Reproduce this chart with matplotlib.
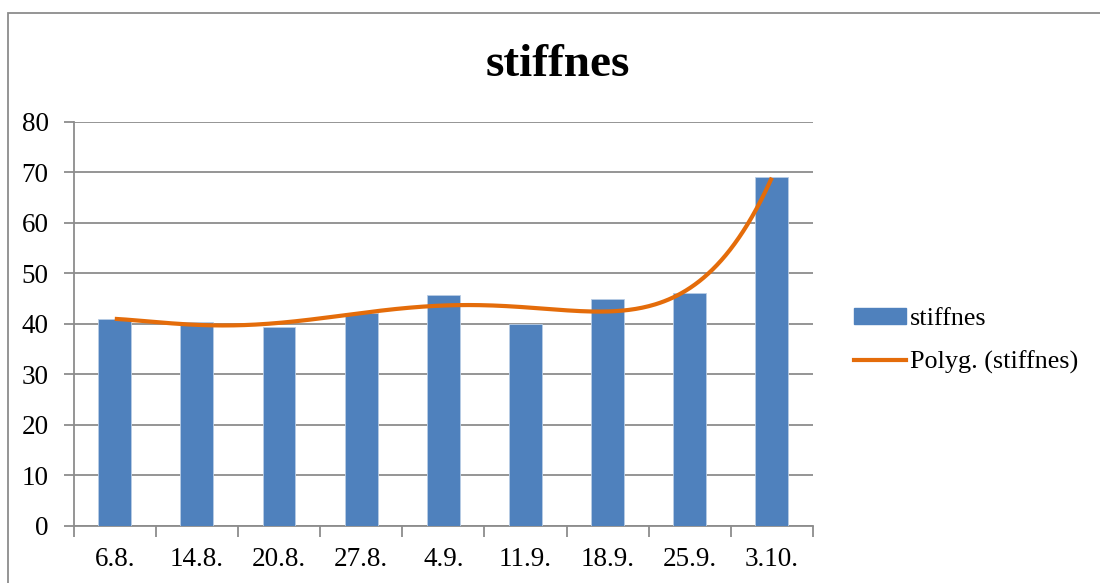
import numpy as np
import matplotlib.pyplot as plt
from matplotlib.patches import Rectangle
from matplotlib.lines import Line2D

dates = ["6.8.", "14.8.", "20.8.", "27.8.", "4.9.", "11.9.", "18.9.", "25.9.", "3.10."]
stiffnes = [40.9, 40.3, 39.3, 42.2, 45.7, 39.9, 45.0, 46.1, 69.1]

plt.rcParams['font.family'] = ['Liberation Serif', 'DejaVu Serif']

fig = plt.figure(figsize=(11, 5.83), dpi=100)
ax = fig.add_axes([0.067, 0.098, 0.672, 0.693])

x = np.arange(len(dates))
bars = ax.bar(x, stiffnes, width=0.4, color="#4f81bd", edgecolor="#b9cde5",
              linewidth=0.6, zorder=3, label="stiffnes")

# polynomial trendline (order 6) through the bar values
coef = np.polyfit(x, stiffnes, 6)
xs = np.linspace(x[0], x[-1], 300)
ax.plot(xs, np.polyval(coef, xs), color="#e46c0a", lw=3, zorder=4,
        solid_capstyle="butt")

ax.set_xlim(-0.5, len(dates) - 0.5)
ax.set_ylim(0, 80)
ax.set_yticks(range(0, 81, 10))
ax.yaxis.grid(True, color="#8c8c8c", lw=1.3, zorder=0)
ax.set_axisbelow(True)

ax.set_xticks(x)
ax.set_xticklabels(dates, fontsize=19.5)
ax.set_xticks(np.arange(-0.5, len(dates), 1), minor=True)
ax.tick_params(axis="x", which="major", length=0, pad=15)
ax.tick_params(axis="x", which="minor", length=8, width=1.3, color="#8c8c8c")
ax.tick_params(axis="y", length=7, width=1.3, color="#8c8c8c", labelsize=19.5, pad=11)

for s in ["top", "right"]:
    ax.spines[s].set_visible(False)
for s in ["left", "bottom"]:
    ax.spines[s].set_color("#8c8c8c")
    ax.spines[s].set_linewidth(1.3)

fig.text(0.507, 0.888, "stiffnes", fontsize=34, fontweight="bold",
         ha="center", va="center")

handles = [Rectangle((0, 0), 1, 1, color="#4f81bd"),
           Line2D([0], [0], color="#e46c0a", lw=3)]
fig.legend(handles, ["stiffnes", "Polyg. (stiffnes)"], loc="center left",
           bbox_to_anchor=(0.776, 0.415), frameon=False, fontsize=18.8,
           handlelength=2.0, handleheight=0.55, handletextpad=0.15,
           labelspacing=0.76, borderpad=0, borderaxespad=0)

# outer chart border
fig.add_artist(Rectangle((0.0075, -0.1), 1.2, 1.078, transform=fig.transFigure,
                         fill=False, edgecolor="#8c8c8c", lw=1.3))

fig.savefig("out.png", dpi=100)
